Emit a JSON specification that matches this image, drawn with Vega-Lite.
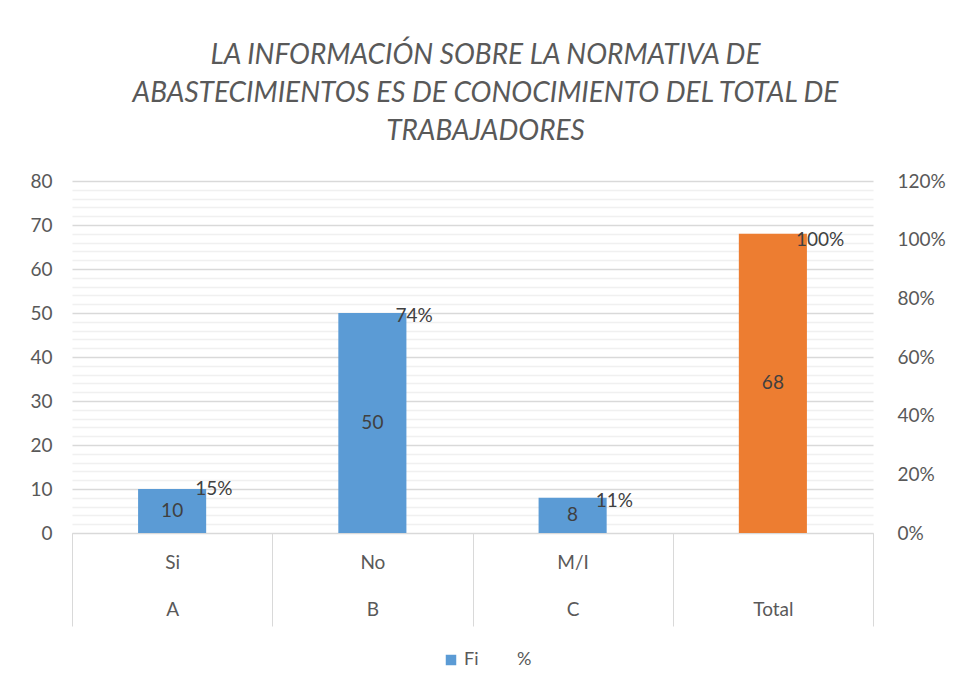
{
  "$schema": "https://vega.github.io/schema/vega-lite/v6.json",
  "autosize": "none",
  "width": 801,
  "height": 352,
  "padding": {"left": 72, "top": 181, "right": 84, "bottom": 162},
  "background": "white",
  "config": {
    "view": {"stroke": null},
    "font": "Lato",
    "axis": {"labelFont": "Lato", "labelColor": "#595959", "labelFontSize": 19},
    "legend": {"labelFont": "Lato", "labelColor": "#595959", "labelFontSize": 18}
  },
  "title": {
    "text": ["LA INFORMACIÓN SOBRE LA NORMATIVA DE", "ABASTECIMIENTOS ES DE CONOCIMIENTO DEL TOTAL DE", "TRABAJADORES"],
    "font": "Lato",
    "fontSize": 28,
    "fontStyle": "italic",
    "fontWeight": "normal",
    "color": "#595959",
    "lineHeight": 38,
    "anchor": "middle",
    "offset": 26,
    "dx": 13
  },
  "data": {
    "values": [
      {"grupo": "A", "resp": "Si", "Fi": 10, "pct": 0.15, "serie": "Fi"},
      {"grupo": "B", "resp": "No", "Fi": 50, "pct": 0.74, "serie": "Fi"},
      {"grupo": "C", "resp": "M/I", "Fi": 8, "pct": 0.11, "serie": "Fi"},
      {"grupo": "Total", "resp": "", "Fi": 68, "pct": 1.0, "serie": "Fi"}
    ]
  },
  "layer": [
    {
      "layer": [
        {
          "mark": {"type": "bar", "width": {"band": 0.34}},
          "encoding": {
            "x": {
              "field": "grupo",
              "type": "nominal",
              "sort": ["A", "B", "C", "Total"],
              "scale": {"paddingInner": 0, "paddingOuter": 0},
              "axis": {
                "title": null,
                "labelAngle": 0,
                "domain": true,
                "domainColor": "#d9d9d9",
                "ticks": true,
                "tickBand": "extent",
                "tickSize": 93,
                "tickColor": "#d9d9d9",
                "labelPadding": -73,
                "labelLineHeight": 47,
                "labelBaseline": "top",
                "labelOverlap": false,
                "labelExpr": "datum.value == 'A' ? ['Si','A'] : datum.value == 'B' ? ['No','B'] : datum.value == 'C' ? ['M/I','C'] : datum.value == 'Total' ? ['','Total'] : ''"
              }
            },
            "y": {
              "field": "Fi",
              "type": "quantitative",
              "scale": {"domain": [0, 80], "nice": false},
              "axis": {
                "title": null,
                "values": [0, 2, 4, 6, 8, 10, 12, 14, 16, 18, 20, 22, 24, 26, 28, 30, 32, 34, 36, 38, 40, 42, 44, 46, 48, 50, 52, 54, 56, 58, 60, 62, 64, 66, 68, 70, 72, 74, 76, 78, 80],
                "labelExpr": "datum.value % 10 === 0 ? datum.label : ''",
                "labelOverlap": false,
                "domain": false,
                "ticks": false,
                "labelPadding": 20,
                "grid": true,
                "gridColor": {"condition": {"test": "datum.value % 10 === 0", "value": "#d9d9d9"}, "value": "#f0f0f0"},
                "gridWidth": 1.3
              }
            },
            "fill": {
              "condition": {"test": "datum.grupo === 'Total'", "value": "#ed7d31"},
              "field": "serie",
              "type": "nominal",
              "scale": {"domain": ["Fi", "%"], "range": ["#5b9bd5", "rgba(0,0,0,0)"]},
              "legend": {
                "title": null,
                "orient": "none",
                "direction": "horizontal",
                "legendX": 370,
                "legendY": 470,
                "symbolType": "square",
                "symbolSize": 110,
                "symbolStrokeWidth": 0,
                "columnPadding": 16,
                "labelOffset": 4
              }
            }
          }
        },
        {
          "transform": [{"calculate": "datum.Fi / 2", "as": "mid"}],
          "mark": {"type": "text", "fontSize": 19, "color": "#404040", "font": "Lato", "baseline": "middle"},
          "encoding": {
            "x": {"field": "grupo", "type": "nominal", "sort": ["A", "B", "C", "Total"]},
            "y": {
              "field": "mid",
              "type": "quantitative",
              "axis": {
                "title": null,
                "values": [0, 2, 4, 6, 8, 10, 12, 14, 16, 18, 20, 22, 24, 26, 28, 30, 32, 34, 36, 38, 40, 42, 44, 46, 48, 50, 52, 54, 56, 58, 60, 62, 64, 66, 68, 70, 72, 74, 76, 78, 80],
                "labelExpr": "datum.value % 10 === 0 ? datum.label : ''",
                "labelOverlap": false,
                "domain": false,
                "ticks": false,
                "labelPadding": 20,
                "grid": true,
                "gridColor": {"condition": {"test": "datum.value % 10 === 0", "value": "#d9d9d9"}, "value": "#f0f0f0"},
                "gridWidth": 1.3
              }
            },
            "text": {"field": "Fi", "type": "quantitative"}
          }
        }
      ]
    },
    {
      "mark": {"type": "text", "fontSize": 19, "color": "#404040", "font": "Lato", "align": "left", "dx": 23, "baseline": "middle"},
      "encoding": {
        "x": {"field": "grupo", "type": "nominal", "sort": ["A", "B", "C", "Total"]},
        "y": {
          "field": "pct",
          "type": "quantitative",
          "scale": {"domain": [0, 1.2], "nice": false},
          "axis": {
            "orient": "right",
            "title": null,
            "values": [0, 0.2, 0.4, 0.6, 0.8, 1.0, 1.2],
            "format": ".0%",
            "domain": false,
            "ticks": false,
            "grid": false,
            "labelPadding": 24
          }
        },
        "text": {"field": "pct", "type": "quantitative", "format": ".0%"}
      }
    }
  ],
  "resolve": {"scale": {"y": "independent"}}
}
